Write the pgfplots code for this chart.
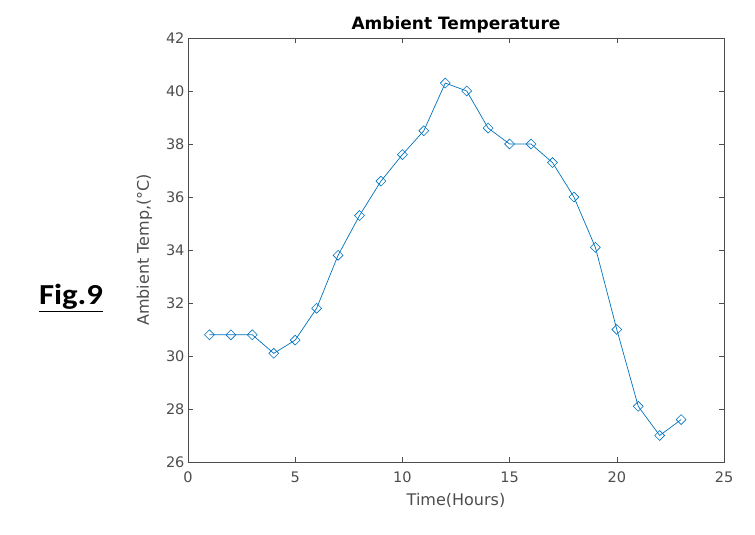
\documentclass[border=0pt]{standalone}
\usepackage{pgfplots}
\pgfplotsset{compat=1.18}
\usepackage{fontspec}
\setmainfont{DejaVu Sans}
\newfontfamily\carlito{Carlito}[FakeStretch=1.13]
\definecolor{mblue}{HTML}{0072BD}
\definecolor{axgray}{HTML}{4D4D4D}
\begin{document}
\begin{tikzpicture}
\useasboundingbox (-188pt,-73pt) rectangle (567pt,462pt);
\begin{axis}[
  scale only axis, width=536pt, height=424pt,
  xmin=0, xmax=25, ymin=26, ymax=42,
  xtick={0,5,...,25}, ytick={26,28,...,42},
  tick align=inside, major tick length=5pt,
  axis line style={axgray, line width=0.6pt},
  every tick/.style={axgray, line width=0.6pt},
  tick label style={font=\fontsize{14.5}{16}\selectfont, text=axgray},
  xticklabel style={yshift=-6pt},
  /pgf/number format/assume math mode=true,
  title={\textbf{Ambient Temperature}},
  title style={font=\fontsize{17}{19}\selectfont, yshift=-5pt},
  xlabel={Time(Hours)}, ylabel={Ambient Temp,(°C)},
  label style={font=\fontsize{16}{18}\selectfont, text=axgray},
  xlabel style={yshift=-4pt},
  ylabel style={yshift=7pt},
]
\addplot[mblue, line width=0.7pt, mark=square, mark size=3.5pt, mark options={solid, rotate=45, line width=0.6pt}] coordinates {
(1,30.8) (2,30.8) (3,30.8) (4,30.1) (5,30.6) (6,31.8) (7,33.8) (8,35.3)
(9,36.6) (10,37.6) (11,38.5) (12,40.3) (13,40.0) (14,38.6) (15,38.0)
(16,38.0) (17,37.3) (18,36.0) (19,34.1) (20,31.0) (21,28.1) (22,27.0) (23,27.6)
};
\end{axis}
\node at (-117pt,164pt) {\carlito\fontsize{29}{32}\selectfont\bfseries\underline{Fig.9}};
\end{tikzpicture}
\end{document}
